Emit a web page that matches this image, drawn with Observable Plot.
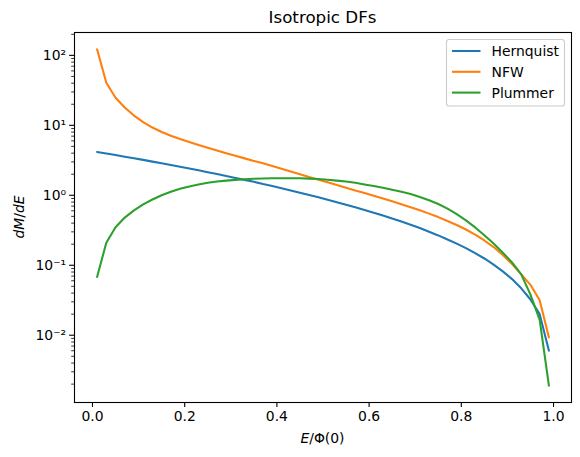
<!DOCTYPE html>
<html>
<head>
<meta charset="utf-8">
<script src="https://cdn.jsdelivr.net/npm/d3@7"></script>
<script src="https://cdn.jsdelivr.net/npm/@observablehq/plot@0.6"></script>
<style>
  html, body { margin: 0; padding: 0; background: white; }
  #chart svg { display: block; }
</style>
</head>
<body>
<div id="chart"></div>
<script>
// ---- data ----
const energy = [0.01, 0.03, 0.05, 0.07, 0.09, 0.11, 0.13, 0.15, 0.17, 0.19,
  0.21, 0.23, 0.25, 0.27, 0.29, 0.31, 0.33, 0.35, 0.37, 0.39,
  0.41, 0.43, 0.45, 0.47, 0.49, 0.51, 0.53, 0.55, 0.57, 0.59,
  0.61, 0.63, 0.65, 0.67, 0.69, 0.71, 0.73, 0.75, 0.77, 0.79,
  0.81, 0.83, 0.85, 0.87, 0.89, 0.91, 0.93, 0.95, 0.97, 0.99];

const hernquist = [4.16, 3.95, 3.76, 3.56, 3.38, 3.21, 3.03, 2.87, 2.71, 2.56,
  2.42, 2.28, 2.14, 2.01, 1.89, 1.77, 1.66, 1.56, 1.45, 1.36,
  1.26, 1.17, 1.09, 1.01, 0.935, 0.865, 0.798, 0.735, 0.675, 0.618,
  0.565, 0.514, 0.467, 0.422, 0.379, 0.340, 0.302, 0.267, 0.234, 0.204,
  0.176, 0.149, 0.125, 0.102, 0.0818, 0.0634, 0.0468, 0.0324, 0.0200, 0.0060];

const nfw = [122, 40.6, 24.8, 18.0, 13.8, 11.1, 9.29, 8.04, 7.11, 6.38,
  5.78, 5.25, 4.79, 4.38, 4.00, 3.66, 3.37, 3.10, 2.86, 2.62,
  2.39, 2.19, 2.00, 1.82, 1.67, 1.53, 1.40, 1.28, 1.17, 1.08,
  0.984, 0.900, 0.820, 0.746, 0.676, 0.610, 0.547, 0.488, 0.430, 0.376,
  0.324, 0.274, 0.226, 0.182, 0.140, 0.104, 0.0741, 0.0525, 0.0316, 0.0093];

const plummer = [0.068, 0.21, 0.35, 0.48, 0.61, 0.74, 0.87, 1.00, 1.12, 1.24,
  1.34, 1.43, 1.51, 1.57, 1.62, 1.66, 1.70, 1.72, 1.74, 1.75,
  1.75, 1.75, 1.75, 1.73, 1.71, 1.67, 1.62, 1.57, 1.51, 1.43,
  1.36, 1.28, 1.20, 1.12, 1.04, 0.944, 0.847, 0.75, 0.646, 0.537,
  0.437, 0.347, 0.269, 0.204, 0.151, 0.110, 0.0741, 0.038, 0.0166, 0.0019];

const seriesNames = ["Hernquist", "NFW", "Plummer"];
const seriesColors = ["#1f77b4", "#ff7f0e", "#2ca02c"];

const xTicks = [0, 0.2, 0.4, 0.6, 0.8, 1.0];
const xTickLabels = ["0.0", "0.2", "0.4", "0.6", "0.8", "1.0"];
const yMajorTicks = [0.01, 0.1, 1, 10, 100];
const yMajorLabels = ["10\u207B\u00B2", "10\u207B\u00B9", "10\u2070", "10\u00B9", "10\u00B2"];
const yMinorTicks = [0.002, 0.003, 0.004, 0.005, 0.006, 0.007, 0.008, 0.009,
  0.02, 0.03, 0.04, 0.05, 0.06, 0.07, 0.08, 0.09,
  0.2, 0.3, 0.4, 0.5, 0.6, 0.7, 0.8, 0.9,
  2, 3, 4, 5, 6, 7, 8, 9,
  20, 30, 40, 50, 60, 70, 80, 90, 200];

const titleText = "Isotropic DFs";

// ---- build table ----
const seriesValues = [hernquist, nfw, plummer];
const rows = [];
seriesNames.forEach((name, s) => {
  energy.forEach((e, i) => rows.push({E: e, dMdE: seriesValues[s][i], model: name}));
});

// matplotlib-like 5% autoscale margins
const xMin = d3.min(energy), xMax = d3.max(energy);
const xPad = (xMax - xMin) * 0.05;
const lMin = Math.log10(d3.min(rows, d => d.dMdE)), lMax = Math.log10(d3.max(rows, d => d.dMdE));
const lPad = (lMax - lMin) * 0.05;

const W = 580, H = 457;
const mL = 74, mR = 9, mT = 32, mB = 55;

const chart = Plot.plot({
  width: W,
  height: H,
  marginLeft: mL,
  marginRight: mR,
  marginTop: mT,
  marginBottom: mB,
  style: {fontFamily: "DejaVu Sans", fontSize: "13.9px", color: "black", background: "white"},
  x: {domain: [xMin - xPad, xMax + xPad]},
  y: {type: "log", domain: [Math.pow(10, lMin - lPad), Math.pow(10, lMax + lPad)]},
  color: {domain: seriesNames, range: seriesColors},
  marks: [
    Plot.line(rows, {x: "E", y: "dMdE", stroke: "model", strokeWidth: 2.08, z: "model"}),
    Plot.axisX({ticks: xTicks, tickFormat: (d) => xTickLabels[xTicks.indexOf(d)], tickSize: 4.9, tickPadding: 3.5, strokeWidth: 1.1, label: null, fontSize: 13.9}),
    Plot.axisY({ticks: yMajorTicks, tickFormat: (d) => yMajorLabels[yMajorTicks.indexOf(d)], tickSize: 4.9, tickPadding: 3.5, strokeWidth: 1.1, label: null, fontSize: 13.9}),
    Plot.axisY({ticks: yMinorTicks, tickFormat: () => "", tickSize: 2.8, strokeWidth: 0.8, label: null}),
    Plot.frame({stroke: "black", strokeWidth: 1.1})
  ]
});

document.getElementById("chart").appendChild(chart);

const svg = d3.select(chart);
const cx = mL + (W - mL - mR) / 2;

// title
svg.append("text")
  .attr("x", cx).attr("y", 23)
  .attr("text-anchor", "middle")
  .attr("font-family", "DejaVu Sans")
  .attr("font-size", 16.7)
  .attr("fill", "black")
  .text(titleText);

// x label: E/Φ(0)
const xl = svg.append("text")
  .attr("x", cx).attr("y", 443)
  .attr("text-anchor", "middle")
  .attr("font-family", "DejaVu Sans")
  .attr("font-size", 13.9)
  .attr("fill", "black");
xl.append("tspan").attr("font-style", "italic").text("E");
xl.append("tspan").text("/\u03A6(0)");

// y label: dM/dE
const yl = svg.append("text")
  .attr("transform", `translate(24, ${mT + (H - mT - mB) / 2}) rotate(-90)`)
  .attr("text-anchor", "middle")
  .attr("font-family", "DejaVu Sans")
  .attr("font-size", 13.9)
  .attr("fill", "black");
yl.append("tspan").attr("font-style", "italic").text("dM");
yl.append("tspan").text("/");
yl.append("tspan").attr("font-style", "italic").text("dE");

// legend
const lg = svg.append("g").attr("text-anchor", "start");
lg.append("rect")
  .attr("x", 446.5).attr("y", 39.5)
  .attr("width", 118).attr("height", 66.5)
  .attr("rx", 2.8)
  .attr("fill", "white").attr("fill-opacity", 0.8)
  .attr("stroke", "#cccccc").attr("stroke-width", 1.1);
seriesNames.forEach((name, i) => {
  const yy = 51 + i * 20.8;
  lg.append("line")
    .attr("x1", 452).attr("x2", 480.5)
    .attr("y1", yy).attr("y2", yy)
    .attr("stroke", seriesColors[i]).attr("stroke-width", 2.08);
  lg.append("text")
    .attr("x", 491.5).attr("y", yy).attr("dy", "0.36em")
    .attr("text-anchor", "start")
    .attr("font-family", "DejaVu Sans")
    .attr("font-size", 13.9)
    .attr("fill", "black")
    .text(name);
});
</script>
</body>
</html>
